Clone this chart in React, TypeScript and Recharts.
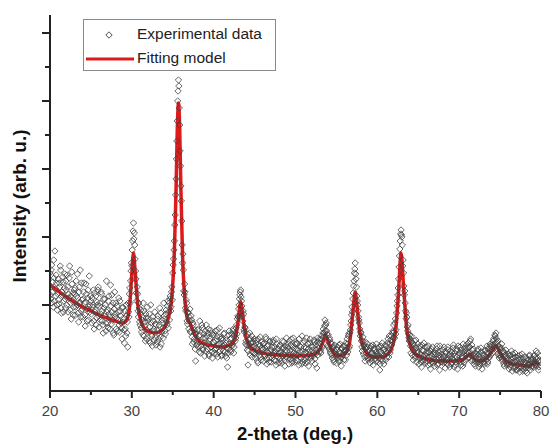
import { ComposedChart, Line, Scatter, XAxis, YAxis } from 'recharts'

// XRD scan: 2-theta from 20.00 in 0.05 deg steps, stored as two interleaved passes
// (A at x.x0, B at x.x5), intensity in arbitrary units, one row per degree
const EXP_START = 20
const EXP_STEP = 0.1
const expIntensityA = [
  118, 92, 126, 99, 84, 113, 140, 95, 108, 81, // 20
  112, 87, 104, 121, 78, 96, 109, 90, 117, 83, // 21
  101, 116, 79, 93, 125, 88, 72, 107, 98, 84, // 22
  97, 76, 110, 86, 93, 69, 104, 121, 80, 91, // 23
  74, 99, 88, 65, 107, 82, 93, 71, 115, 86, // 24
  90, 68, 84, 101, 62, 79, 95, 73, 86, 104, // 25
  64, 88, 77, 97, 70, 58, 83, 92, 68, 110, // 26
  81, 63, 95, 74, 106, 67, 79, 88, 56, 99, // 27
  77, 62, 85, 71, 93, 59, 80, 68, 52, 84, // 28
  73, 48, 62, 86, 58, 44, 79, 97, 88, 120, // 29
  125, 150, 168, 158, 132, 112, 90, 97, 74, 83, // 30
  66, 81, 59, 74, 88, 55, 69, 77, 52, 84, // 31
  73, 50, 64, 86, 57, 45, 70, 62, 79, 53, // 32
  66, 49, 75, 58, 83, 54, 47, 71, 63, 88, // 33
  72, 57, 81, 66, 90, 79, 71, 95, 84, 104, // 34
  118, 132, 150, 176, 212, 250, 290, 311, 283, 240, // 35
  205, 170, 128, 121, 96, 99, 80, 88, 67, 78, // 36
  74, 82, 60, 71, 47, 66, 52, 58, 30, 46, // 37
  61, 44, 55, 70, 38, 49, 63, 41, 57, 35, // 38
  53, 66, 42, 58, 37, 50, 61, 44, 39, 56, // 39
  49, 38, 60, 43, 55, 34, 47, 63, 40, 52, // 40
  36, 51, 45, 58, 39, 48, 33, 24, 42, 60, // 41
  52, 39, 57, 47, 62, 44, 58, 53, 66, 72, // 42
  74, 86, 96, 101, 90, 75, 80, 61, 64, 47, // 43
  55, 41, 26, 46, 58, 52, 44, 34, 49, 38, // 44
  45, 33, 51, 40, 28, 47, 36, 54, 31, 43, // 45
  42, 30, 48, 35, 52, 27, 39, 46, 33, 50, // 46
  29, 44, 36, 51, 31, 40, 26, 47, 38, 34, // 47
  45, 32, 39, 28, 50, 37, 43, 25, 41, 53, // 48
  33, 47, 27, 40, 36, 52, 30, 44, 38, 29, // 49
  42, 31, 48, 36, 26, 45, 39, 33, 55, 29, // 50
  37, 50, 28, 43, 34, 47, 25, 40, 52, 35, // 51
  30, 44, 38, 49, 27, 41, 23, 53, 46, 39, // 52
  48, 38, 55, 44, 62, 58, 71, 66, 60, 45, // 53
  56, 42, 51, 37, 47, 33, 44, 29, 40, 35, // 54
  28, 41, 33, 46, 30, 38, 25, 43, 36, 31, // 55
  45, 31, 41, 52, 39, 57, 45, 61, 70, 84, // 56
  92, 105, 118, 128, 112, 95, 86, 74, 68, 55, // 57
  58, 44, 50, 37, 46, 30, 42, 35, 47, 31, // 58
  40, 28, 45, 33, 38, 26, 43, 36, 30, 47, // 59
  37, 29, 44, 21, 39, 32, 48, 35, 27, 42, // 60
  31, 45, 38, 52, 34, 47, 41, 55, 49, 60, // 61
  66, 53, 72, 61, 85, 96, 112, 135, 150, 161, // 62
  154, 125, 118, 96, 88, 72, 74, 60, 57, 50, // 63
  52, 38, 49, 43, 31, 46, 35, 51, 29, 40, // 64
  39, 27, 45, 33, 24, 41, 30, 48, 36, 28, // 65
  35, 44, 26, 39, 31, 22, 42, 29, 37, 33, // 66
  25, 38, 32, 45, 27, 36, 21, 40, 34, 29, // 67
  41, 28, 35, 23, 38, 31, 44, 26, 33, 37, // 68
  27, 39, 32, 46, 24, 35, 29, 42, 22, 36, // 69
  31, 44, 26, 38, 33, 47, 28, 40, 35, 43, // 70
  39, 48, 33, 44, 52, 30, 41, 36, 27, 38, // 71
  25, 37, 31, 42, 24, 34, 29, 39, 22, 33, // 72
  36, 27, 40, 31, 45, 29, 38, 34, 47, 41, // 73
  46, 38, 52, 44, 55, 58, 49, 37, 45, 33, // 74
  42, 34, 47, 30, 39, 25, 36, 41, 28, 33, // 75
  31, 22, 36, 26, 40, 20, 33, 28, 38, 24, // 76
  30, 21, 35, 27, 19, 33, 24, 37, 22, 29, // 77
  34, 23, 28, 18, 31, 26, 36, 21, 30, 25, // 78
  32, 24, 36, 29, 40, 27, 33, 21, 30, 26, // 79
]
const expIntensityB = [
  96, 121, 88, 109, 131, 90, 102, 116, 86, 97, // 20
  91, 108, 125, 83, 99, 114, 79, 103, 92, 110, // 21
  86, 104, 97, 113, 81, 95, 119, 90, 76, 101, // 22
  103, 84, 95, 117, 78, 99, 88, 74, 108, 82, // 23
  92, 108, 76, 89, 97, 70, 101, 84, 79, 95, // 24
  77, 93, 86, 70, 98, 81, 66, 89, 101, 75, // 25
  85, 71, 99, 80, 66, 92, 75, 86, 60, 79, // 26
  68, 90, 77, 62, 85, 96, 71, 58, 82, 74, // 27
  88, 73, 60, 79, 66, 90, 75, 63, 83, 69, // 28
  61, 80, 55, 75, 69, 88, 74, 103, 110, 128, // 29
  141, 160, 152, 146, 120, 98, 104, 80, 88, 69, // 30
  77, 63, 71, 56, 80, 65, 50, 73, 61, 70, // 31
  59, 77, 48, 68, 55, 74, 60, 51, 67, 46, // 32
  61, 72, 52, 66, 44, 78, 59, 68, 53, 75, // 33
  60, 77, 69, 85, 63, 88, 92, 80, 99, 91, // 34
  126, 141, 166, 196, 232, 270, 300, 305, 266, 225, // 35
  190, 146, 137, 100, 107, 83, 91, 70, 79, 62, // 36
  70, 59, 75, 54, 68, 49, 61, 42, 57, 50, // 37
  47, 62, 39, 56, 45, 66, 42, 53, 48, 60, // 38
  40, 55, 47, 62, 35, 52, 44, 58, 33, 49, // 39
  56, 41, 50, 37, 61, 46, 39, 54, 48, 35, // 40
  53, 40, 57, 46, 35, 51, 43, 38, 56, 47, // 41
  41, 53, 45, 60, 38, 56, 50, 63, 57, 75, // 42
  82, 92, 99, 94, 85, 70, 77, 59, 63, 50, // 43
  46, 57, 40, 51, 36, 48, 55, 39, 44, 52, // 44
  37, 48, 43, 30, 52, 39, 45, 34, 49, 41, // 45
  47, 36, 43, 54, 32, 45, 38, 29, 49, 40, // 46
  41, 33, 49, 38, 44, 30, 52, 35, 42, 28, // 47
  38, 46, 30, 43, 35, 49, 31, 45, 34, 40, // 48
  44, 36, 50, 32, 46, 28, 41, 53, 35, 47, // 49
  36, 47, 30, 41, 52, 34, 44, 27, 40, 48, // 50
  44, 31, 39, 53, 29, 42, 36, 48, 33, 45, // 51
  41, 35, 51, 32, 46, 38, 49, 36, 43, 52, // 52
  40, 52, 45, 58, 54, 65, 60, 68, 57, 50, // 53
  44, 53, 39, 48, 36, 43, 31, 46, 38, 42, // 54
  36, 44, 30, 39, 47, 33, 42, 37, 45, 40, // 55
  40, 48, 36, 47, 55, 43, 58, 66, 76, 79, // 56
  98, 110, 122, 117, 104, 90, 80, 71, 62, 59, // 57
  50, 40, 54, 45, 34, 49, 38, 44, 33, 41, // 58
  34, 43, 38, 30, 46, 36, 41, 32, 39, 35, // 59
  43, 33, 40, 27, 45, 38, 30, 41, 36, 46, // 60
  40, 34, 48, 41, 55, 38, 51, 46, 58, 53, // 61
  59, 68, 57, 78, 90, 103, 124, 142, 157, 156, // 62
  146, 131, 105, 100, 80, 78, 64, 66, 53, 56, // 63
  45, 55, 36, 47, 40, 50, 33, 43, 38, 47, // 64
  34, 43, 37, 29, 46, 35, 40, 31, 44, 38, // 65
  30, 38, 45, 34, 27, 40, 35, 44, 28, 39, // 66
  36, 30, 42, 26, 39, 33, 45, 29, 37, 32, // 67
  34, 44, 29, 39, 32, 27, 41, 36, 24, 40, // 68
  35, 28, 43, 31, 38, 26, 40, 34, 45, 30, // 69
  38, 29, 41, 35, 25, 39, 43, 31, 46, 37, // 70
  33, 44, 38, 50, 35, 46, 31, 42, 35, 30, // 71
  34, 28, 40, 32, 37, 27, 43, 30, 36, 28, // 72
  29, 41, 34, 38, 27, 42, 33, 45, 36, 44, // 73
  41, 50, 46, 56, 48, 52, 42, 50, 36, 44, // 74
  36, 43, 32, 40, 27, 38, 30, 35, 26, 37, // 75
  27, 35, 24, 32, 29, 37, 23, 30, 34, 21, // 76
  26, 33, 23, 31, 36, 24, 29, 20, 32, 27, // 77
  29, 20, 33, 26, 23, 35, 27, 32, 24, 29, // 78
  28, 35, 26, 33, 25, 38, 30, 24, 35, 29, // 79
]

// fitted profile (background + peaks)
const modelTheta = [
  20, 21, 22, 23, 24, 25, 26, 27, 28, 28.8, 29.3, 29.7, 30.0, 30.2, 30.4, 30.7, 31.1, 31.6,
  32.2, 32.8, 33.4, 34.0, 34.5, 34.9, 35.2, 35.4, 35.55, 35.7, 35.85, 36.0, 36.2, 36.5, 36.8,
  37.1, 37.5, 38.0, 38.6, 39.3, 40.0, 41.0, 42.0, 42.6, 43.0, 43.3, 43.6, 44.0, 44.6, 45.5,
  46.5, 48, 50, 52, 53.0, 53.4, 53.7, 54.0, 54.5, 55.2, 56.0, 56.6, 57.0, 57.3, 57.6, 58.0,
  58.7, 59.5, 60.5, 61.5, 62.2, 62.6, 62.9, 63.2, 63.6, 64.2, 65.0, 66.0, 67.5, 69.0, 70.3,
  71.0, 71.3, 71.7, 72.5, 73.4, 74.0, 74.5, 75.0, 75.7, 76.5, 77.5, 78.5, 79.0, 79.3, 79.6,
]
const modelIntensity = [
  106, 100, 94, 89, 84, 80, 76, 73, 70, 68, 70, 82, 118, 138, 120, 88, 70, 62,
  59, 58, 59, 64, 74, 95, 140, 200, 260, 288, 262, 200, 135, 90, 72,
  68, 60, 52, 48, 46, 45, 44, 46, 52, 70, 89, 72, 52, 43, 39,
  37, 36, 35, 36, 42, 50, 56, 49, 40, 35, 37, 48, 78, 99, 78, 52,
  38, 34, 34, 39, 58, 100, 138, 105, 62, 42, 35, 32, 30, 30, 31,
  35, 37, 33, 30, 33, 40, 45, 38, 30, 27, 26, 25, 27, 29, 26,
]

const xTicks = [20, 25, 30, 35, 40, 45, 50, 55, 60, 65, 70, 75, 80]
const yTicks = [18, 52, 86, 120, 154, 188, 222, 256, 290, 324, 358]

const expData = [
  ...expIntensityA.map((y, i) => ({ x: +(EXP_START + i * EXP_STEP).toFixed(2), y })),
  ...expIntensityB.map((y, i) => ({ x: +(EXP_START + 0.05 + i * EXP_STEP).toFixed(2), y })),
]
const modelData = modelTheta.map((x, i) => ({ x, y: modelIntensity[i] }))

const FONT = '"Liberation Sans", Arial, sans-serif'
const RED = '#de1a1a'

function Diamond({ cx, cy }: { cx?: number; cy?: number }) {
  if (cx == null || cy == null) return null
  const r = 3.2
  return (
    <path
      d={`M${cx},${cy - r}L${cx + r},${cy}L${cx},${cy + r}L${cx - r},${cy}Z`}
      fill="none"
      stroke="#404040"
      strokeWidth={0.8}
    />
  )
}

function XTick({ x, y, payload }: any) {
  const major = payload.value % 10 === 0
  return (
    <g>
      <line x1={x} x2={x} y1={y} y2={y + (major ? 7 : 4)} stroke="#222" strokeWidth={2} />
      {major && (
        <text x={x} y={y + 25} textAnchor="middle" fontSize={15} fill="#444" fontFamily={FONT}>
          {payload.value}
        </text>
      )}
    </g>
  )
}

function YTick({ x, y, index }: any) {
  const major = index % 2 === 0
  return <line x1={x - (major ? 8 : 5)} x2={x} y1={y} y2={y} stroke="#222" strokeWidth={2} />
}

export default function App() {
  return (
    <div style={{ position: 'absolute', left: 0, top: 0, width: 551, height: 446, background: '#fff', fontFamily: FONT }}>
      <ComposedChart width={551} height={446} margin={{ top: 15, right: 10, bottom: 0, left: 0 }}>
        <XAxis
          dataKey="x"
          type="number"
          domain={[20, 80]}
          ticks={xTicks}
          interval={0}
          height={55}
          tickSize={0}
          tickMargin={0}
          tickLine={false}
          tick={<XTick />}
          axisLine={{ stroke: '#222', strokeWidth: 2 }}
          allowDataOverflow
        />
        <YAxis
          dataKey="y"
          type="number"
          domain={[0, 376]}
          ticks={yTicks}
          interval={0}
          width={50}
          tickSize={0}
          tickMargin={0}
          tickLine={false}
          tick={<YTick />}
          axisLine={{ stroke: '#222', strokeWidth: 2 }}
          allowDataOverflow
        />
        <Scatter data={expData} dataKey="y" shape={<Diamond />} isAnimationActive={false} />
        <Line
          data={modelData}
          dataKey="y"
          type="monotone"
          stroke={RED}
          strokeWidth={3.5}
          dot={false}
          isAnimationActive={false}
        />
      </ComposedChart>

      <div
        style={{
          position: 'absolute',
          left: 83,
          top: 19,
          width: 193,
          height: 52,
          border: '1px solid #8a8a8a',
          boxSizing: 'border-box',
          fontSize: 15.5,
          color: '#222',
        }}
      >
        <svg width={54} height={50} style={{ position: 'absolute', left: 0, top: 0 }}>
          <path d="M25,11.8L28.2,15L25,18.2L21.8,15Z" fill="none" stroke="#3a3a3a" strokeWidth={0.9} />
          <line x1={2} x2={50} y1={39} y2={39} stroke={RED} strokeWidth={3} />
        </svg>
        <div style={{ position: 'absolute', left: 53, top: 5, whiteSpace: 'nowrap' }}>Experimental data</div>
        <div style={{ position: 'absolute', left: 53, top: 29, whiteSpace: 'nowrap' }}>Fitting model</div>
      </div>

      <div
        style={{
          position: 'absolute',
          left: 20,
          top: 206,
          transform: 'translate(-50%, -50%) rotate(-90deg)',
          whiteSpace: 'nowrap',
          fontWeight: 'bold',
          fontSize: 19,
          color: '#111',
        }}
      >
        Intensity (arb. u.)
      </div>
      <div
        style={{
          position: 'absolute',
          left: 295,
          top: 434,
          transform: 'translate(-50%, -50%)',
          whiteSpace: 'nowrap',
          fontWeight: 'bold',
          fontSize: 18.5,
          color: '#111',
        }}
      >
        2-theta (deg.)
      </div>
    </div>
  )
}
